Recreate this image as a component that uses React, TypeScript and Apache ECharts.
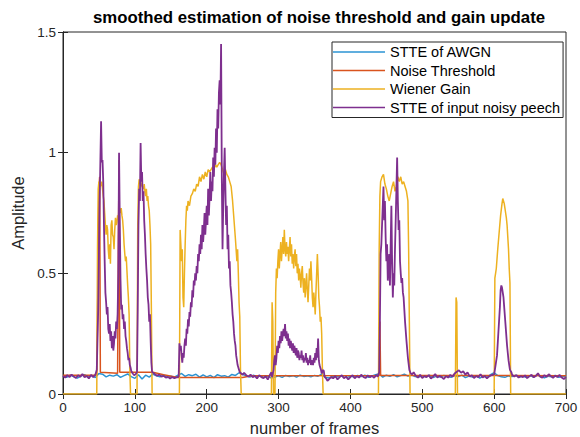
import React, { useEffect, useRef } from "react";
import * as echarts from "echarts";

// ---- Data ----
const titleText = "smoothed estimation of noise threshold and gain update";
const seriesNames = ["STTE of AWGN", "Noise Threshold", "Wiener Gain", "STTE of input noisy peech"];
const xTickStep = 100;
const yTickStep = 0.5;

// STTE of AWGN, one value every 5 frames (0..700)
const awgnStep = 5;
const awgnValues = [
  0.074, 0.069, 0.078, 0.072, 0.066, 0.075, 0.08, 0.07, 0.077, 0.068,
  0.085, 0.082, 0.071, 0.078, 0.074, 0.08, 0.069, 0.076, 0.083, 0.072,
  0.065, 0.08, 0.062, 0.078, 0.07, 0.083, 0.075, 0.071, 0.079, 0.068,
  0.074, 0.07, 0.078, 0.085, 0.073, 0.08, 0.076, 0.082, 0.07, 0.079,
  0.071, 0.077, 0.068, 0.08, 0.074, 0.076, 0.07, 0.081, 0.077, 0.088,
  0.082, 0.075, 0.07, 0.078, 0.072, 0.076, 0.068, 0.074, 0.066, 0.07,
  0.075, 0.069, 0.077, 0.072, 0.076, 0.07, 0.078, 0.073, 0.075, 0.071,
  0.077, 0.074, 0.082, 0.07, 0.066, 0.073, 0.069, 0.076, 0.071, 0.068,
  0.074, 0.07, 0.077, 0.072, 0.078, 0.069, 0.075, 0.08, 0.084, 0.07,
  0.078, 0.073, 0.08, 0.071, 0.076, 0.082, 0.074, 0.079, 0.072, 0.07,
  0.075, 0.071, 0.078, 0.068, 0.074, 0.07, 0.077, 0.073, 0.069, 0.076,
  0.072, 0.078, 0.068, 0.074, 0.07, 0.076, 0.066, 0.073, 0.069, 0.08,
  0.088, 0.076, 0.071, 0.069, 0.075, 0.072, 0.078, 0.07, 0.074, 0.068,
  0.076, 0.07, 0.079, 0.072, 0.067, 0.074, 0.071, 0.077, 0.069, 0.073,
  0.072,
];

// Noise threshold: [frame, value]
const thresholdPoints: [number, number][] = [
  [0, 0.078], [47, 0.078], [48, 0.3], [49, 0.6], [50, 0.85], [51, 0.9], [52, 0.09],
  [76, 0.086], [77, 0.6], [78, 0.97], [79, 0.09], [125, 0.09], [140, 0.08], [160, 0.068],
  [250, 0.068], [262, 0.076], [440, 0.077], [441, 0.3], [442, 0.077], [700, 0.076],
];

// Wiener gain: [frame, value]
const gainPoints: [number, number][] = [
  [0, 0], [47, 0], [48, 0.6], [49, 0.85], [50, 0.88], [52, 0.86], [54, 0.88], [56, 0.82],
  [57, 0.8], [58, 0.75], [59, 0.7], [60, 0.66], [61, 0.7], [62, 0.68], [63, 0.6], [64, 0.56],
  [65, 0.62], [66, 0.54], [67, 0.7], [68, 0.72], [69, 0.66], [70, 0.65], [71, 0.6], [72, 0.68],
  [73, 0.73], [74, 0.7], [75, 0.71], [76, 0.74], [77, 0.72], [78, 0.78], [79, 0.76], [80, 0.75],
  [81, 0.77], [82, 0.74], [83, 0.72], [84, 0.68], [85, 0.62], [86, 0.58], [87, 0.55], [88, 0.57],
  [89, 0.51], [90, 0.45], [91, 0.4], [92, 0.33], [93, 0.1], [94, 0],
  [103, 0], [104, 0.7], [105, 0.86], [106, 0.89], [107, 0.87], [108, 0.88], [110, 0.86],
  [112, 0.85], [113, 0.87], [114, 0.84], [115, 0.82], [116, 0.85], [117, 0.8], [118, 0.82],
  [119, 0.78], [120, 0.76], [121, 0.7], [122, 0.62], [123, 0.35], [124, 0],
  [162, 0], [163, 0.68], [164, 0.62], [165, 0.55], [166, 0.6], [167, 0.4], [168, 0.36],
  [169, 0.5], [170, 0.62], [171, 0.72], [172, 0.78], [173, 0.76], [174, 0.8], [176, 0.78],
  [178, 0.82], [180, 0.83], [182, 0.85], [184, 0.84], [186, 0.87], [188, 0.86], [190, 0.9],
  [192, 0.88], [194, 0.91], [196, 0.89], [198, 0.92], [200, 0.9], [202, 0.93], [204, 0.92],
  [206, 0.93], [208, 0.94], [210, 0.93], [212, 0.95], [214, 0.94], [216, 0.95], [218, 0.96],
  [220, 0.95], [222, 0.93], [224, 0.91], [226, 0.93], [228, 0.91], [230, 0.9], [232, 0.88],
  [234, 0.86], [236, 0.8], [238, 0.72], [240, 0.64], [242, 0.55], [243, 0.6], [244, 0.5],
  [245, 0.38], [246, 0.32], [247, 0.1], [248, 0],
  [290, 0], [291, 0.38], [292, 0.3], [293, 0], [295, 0], [296, 0.42], [297, 0.52], [298, 0.48],
  [299, 0.55], [300, 0.6], [301, 0.52], [302, 0.58], [303, 0.63], [304, 0.55], [305, 0.6],
  [306, 0.65], [307, 0.58], [308, 0.68], [309, 0.6], [310, 0.57], [311, 0.63], [312, 0.58],
  [313, 0.61], [314, 0.55], [315, 0.6], [316, 0.65], [317, 0.57], [318, 0.62], [319, 0.54],
  [320, 0.58], [321, 0.52], [322, 0.57], [323, 0.6], [324, 0.53], [325, 0.58], [326, 0.5],
  [327, 0.54], [328, 0.47], [329, 0.52], [330, 0.49], [331, 0.44], [332, 0.5], [333, 0.53],
  [334, 0.46], [335, 0.42], [336, 0.48], [337, 0.4], [338, 0.45], [339, 0.5], [340, 0.43],
  [341, 0.38], [342, 0.45], [343, 0.52], [344, 0.47], [345, 0.55], [346, 0.48], [347, 0.4],
  [348, 0.36], [349, 0.42], [350, 0.38], [351, 0.33], [352, 0.42], [353, 0.5], [354, 0.58],
  [355, 0.5], [356, 0.4], [357, 0.36], [358, 0.3], [359, 0.32], [360, 0.25], [361, 0.1], [362, 0],
  [439, 0], [440, 0.6], [441, 0.82], [442, 0.88], [444, 0.9], [446, 0.91], [448, 0.87],
  [450, 0.85], [452, 0.82], [454, 0.8], [456, 0.83], [458, 0.86], [460, 0.88], [462, 0.84],
  [464, 0.86], [466, 0.9], [468, 0.88], [470, 0.9], [472, 0.87], [474, 0.88], [476, 0.86],
  [478, 0.84], [480, 0.8], [481, 0.6], [482, 0.3], [483, 0],
  [546, 0], [547, 0.4], [548, 0.38], [549, 0],
  [600, 0], [601, 0.48], [602, 0.5], [603, 0.52], [605, 0.6], [607, 0.67], [609, 0.74],
  [611, 0.79], [612, 0.81], [613, 0.8], [614, 0.79], [615, 0.77], [616, 0.75], [617, 0.73],
  [618, 0.7], [619, 0.65], [620, 0.6], [621, 0.52], [622, 0.46], [623, 0], [700, 0],
];

// STTE of input noisy speech: [frame, value]
const noisyPoints: [number, number][] = [
  [0, 0.075], [3, 0.068], [6, 0.078], [9, 0.07], [12, 0.08], [15, 0.072], [18, 0.066], [21, 0.078],
  [24, 0.071], [27, 0.083], [30, 0.069], [33, 0.075], [36, 0.064], [39, 0.079], [42, 0.07],
  [45, 0.08], [47, 0.1], [49, 0.35], [51, 0.8], [53, 1.13], [54, 0.96], [55, 0.97], [56, 0.88],
  [57, 0.7], [58, 0.55], [59, 0.42], [60, 0.38], [61, 0.33], [62, 0.36], [63, 0.27], [64, 0.25],
  [65, 0.29], [66, 0.22], [67, 0.26], [68, 0.19], [69, 0.24], [70, 0.18], [71, 0.21], [72, 0.26],
  [73, 0.23], [74, 0.3], [75, 0.27], [76, 0.33], [77, 0.5], [78, 1.0], [79, 0.72], [80, 0.48],
  [81, 0.35], [82, 0.37], [83, 0.31], [84, 0.33], [85, 0.27], [86, 0.3], [87, 0.24], [88, 0.22],
  [89, 0.19], [90, 0.17], [91, 0.14], [92, 0.15], [93, 0.12], [94, 0.11], [95, 0.095], [97, 0.085],
  [99, 0.078], [101, 0.082], [103, 0.09], [104, 0.35], [105, 0.7], [106, 0.85], [107, 0.8],
  [108, 1.04], [109, 0.88], [110, 0.92], [111, 0.8], [112, 0.84], [113, 0.72], [114, 0.66],
  [115, 0.58], [116, 0.52], [117, 0.47], [118, 0.4], [119, 0.37], [120, 0.3], [121, 0.33],
  [122, 0.22], [123, 0.13], [124, 0.09], [126, 0.088], [128, 0.082], [131, 0.076], [134, 0.08],
  [137, 0.072], [140, 0.075], [143, 0.068], [146, 0.071], [149, 0.064], [152, 0.07], [155, 0.066],
  [158, 0.069], [161, 0.072], [162, 0.21], [163, 0.18], [164, 0.2], [165, 0.16], [166, 0.13],
  [167, 0.17], [168, 0.15], [169, 0.2], [170, 0.23], [171, 0.2], [172, 0.27], [173, 0.25],
  [174, 0.31], [175, 0.28], [176, 0.34], [177, 0.32], [178, 0.38], [179, 0.36], [180, 0.43],
  [181, 0.4], [182, 0.47], [183, 0.45], [184, 0.5], [185, 0.47], [186, 0.53], [187, 0.5],
  [188, 0.58], [189, 0.55], [190, 0.62], [191, 0.58], [192, 0.66], [193, 0.6], [194, 0.7],
  [195, 0.63], [196, 0.68], [197, 0.75], [198, 0.66], [199, 0.72], [200, 0.78], [201, 0.7],
  [202, 0.85], [203, 0.74], [204, 0.82], [205, 0.92], [206, 0.8], [207, 0.88], [208, 0.84],
  [209, 0.98], [210, 0.9], [211, 1.02], [212, 0.95], [213, 1.1], [214, 1.0], [215, 1.18],
  [216, 1.1], [217, 1.25], [218, 1.3], [219, 1.2], [220, 1.45], [221, 0.9], [222, 0.6],
  [223, 0.78], [224, 0.92], [225, 1.02], [226, 0.85], [227, 0.7], [228, 0.78], [229, 0.6],
  [230, 0.66], [231, 0.52], [232, 0.55], [233, 0.45], [234, 0.42], [235, 0.38], [236, 0.33],
  [237, 0.3], [238, 0.25], [239, 0.22], [240, 0.2], [241, 0.16], [242, 0.14], [243, 0.12],
  [244, 0.11], [246, 0.09], [248, 0.085], [250, 0.08], [252, 0.088], [255, 0.078], [258, 0.072],
  [261, 0.08], [264, 0.07], [267, 0.075], [270, 0.064], [273, 0.078], [276, 0.07], [279, 0.066],
  [282, 0.074], [285, 0.06], [288, 0.08], [290, 0.09], [291, 0.07], [293, 0.1], [294, 0.14],
  [295, 0.16], [296, 0.12], [297, 0.15], [298, 0.2], [299, 0.17], [300, 0.22], [301, 0.19],
  [302, 0.24], [303, 0.21], [304, 0.26], [305, 0.22], [306, 0.25], [307, 0.27], [308, 0.24],
  [309, 0.29], [310, 0.23], [311, 0.26], [312, 0.22], [313, 0.25], [314, 0.2], [315, 0.23],
  [316, 0.19], [317, 0.22], [318, 0.2], [319, 0.18], [320, 0.21], [321, 0.17], [322, 0.2],
  [323, 0.18], [324, 0.16], [325, 0.19], [326, 0.15], [327, 0.18], [328, 0.17], [329, 0.14],
  [330, 0.16], [331, 0.15], [332, 0.18], [333, 0.14], [334, 0.16], [335, 0.13], [336, 0.15],
  [337, 0.14], [338, 0.17], [339, 0.13], [340, 0.15], [341, 0.12], [342, 0.14], [343, 0.13],
  [344, 0.16], [345, 0.12], [346, 0.14], [347, 0.13], [348, 0.12], [349, 0.15], [350, 0.13],
  [351, 0.17], [352, 0.14], [353, 0.19], [354, 0.15], [355, 0.23], [356, 0.14], [357, 0.12],
  [358, 0.11], [359, 0.1], [360, 0.085], [362, 0.1], [363, 0.095], [364, 0.072], [366, 0.065],
  [368, 0.055], [370, 0.06], [373, 0.07], [376, 0.065], [379, 0.075], [382, 0.06], [385, 0.07],
  [388, 0.078], [391, 0.065], [394, 0.072], [397, 0.06], [400, 0.07], [403, 0.078], [406, 0.065],
  [409, 0.074], [412, 0.068], [415, 0.08], [418, 0.071], [421, 0.066], [424, 0.077], [427, 0.07],
  [430, 0.075], [433, 0.067], [436, 0.079], [438, 0.072], [440, 0.09], [441, 0.3], [442, 0.58],
  [443, 0.62], [444, 0.7], [445, 0.78], [446, 0.86], [447, 0.72], [448, 0.8], [449, 0.65],
  [450, 0.55], [451, 0.62], [452, 0.47], [453, 0.52], [454, 0.58], [455, 0.45], [456, 0.62],
  [457, 0.78], [458, 0.55], [459, 0.4], [460, 0.5], [461, 0.45], [462, 0.6], [463, 0.72],
  [464, 0.85], [465, 0.98], [466, 0.8], [467, 0.68], [468, 0.72], [469, 0.55], [470, 0.5],
  [471, 0.46], [472, 0.48], [473, 0.42], [474, 0.4], [476, 0.3], [478, 0.22], [480, 0.15],
  [482, 0.1], [484, 0.085], [486, 0.082], [488, 0.09], [491, 0.075], [494, 0.068], [497, 0.08],
  [500, 0.066], [503, 0.074], [506, 0.07], [509, 0.078], [512, 0.064], [515, 0.072], [518, 0.083],
  [521, 0.068], [524, 0.075], [527, 0.07], [530, 0.062], [533, 0.074], [536, 0.068], [539, 0.079],
  [542, 0.072], [545, 0.085], [548, 0.092], [551, 0.098], [554, 0.088], [557, 0.094], [560, 0.08],
  [563, 0.09], [566, 0.072], [569, 0.078], [572, 0.066], [575, 0.074], [578, 0.07], [581, 0.082],
  [584, 0.068], [587, 0.075], [590, 0.065], [593, 0.073], [596, 0.078], [599, 0.08], [600, 0.08],
  [602, 0.12], [604, 0.16], [606, 0.26], [608, 0.36], [609, 0.43], [610, 0.45], [611, 0.44],
  [612, 0.42], [613, 0.4], [614, 0.36], [615, 0.32], [616, 0.28], [617, 0.24], [618, 0.2],
  [619, 0.17], [620, 0.14], [621, 0.12], [622, 0.1], [624, 0.09], [625, 0.08], [628, 0.072],
  [631, 0.078], [634, 0.068], [637, 0.074], [640, 0.07], [643, 0.077], [646, 0.066], [649, 0.073],
  [652, 0.08], [655, 0.069], [658, 0.075], [661, 0.086], [664, 0.072], [667, 0.068], [670, 0.078],
  [673, 0.071], [676, 0.082], [679, 0.074], [682, 0.067], [685, 0.076], [688, 0.07], [691, 0.079],
  [694, 0.068], [697, 0.062], [700, 0.07],
];

const colors = ["#2b93d3", "#d9541e", "#edb120", "#7e2f8e"];
const FONT = 'Arial, "Liberation Sans", Helvetica, sans-serif';
const AXIS = "#262626";

export default function App() {
  const ref = useRef<HTMLDivElement>(null);
  useEffect(() => {
    if (!ref.current) return;
    const chart = echarts.init(ref.current, null, { renderer: "svg" });
    const awgnData = awgnValues.map((v, i) => [i * awgnStep, v]);
    const tickCommon = {
      show: true,
      inside: true,
      length: 5,
      lineStyle: { color: AXIS, width: 1 },
    };
    chart.setOption({
      animation: false,
      backgroundColor: "#ffffff",
      color: colors,
      textStyle: { fontFamily: FONT },
      graphic: [
        {
          type: "text",
          x: 319,
          y: 17,
          style: {
            text: titleText,
            fontFamily: FONT,
            fontSize: 16.8,
            fontWeight: "bold",
            fill: "#000",
            align: "center",
            verticalAlign: "middle",
          },
        },
      ],
      grid: {
        left: 63,
        right: 14,
        top: 32,
        bottom: 43,
        containLabel: false,
        outerBoundsMode: "none",
        show: true,
        borderColor: AXIS,
        borderWidth: 1,
        backgroundColor: "#fff",
      },
      legend: {
        orient: "vertical",
        left: 332,
        top: 42,
        data: seriesNames,
        icon: "rect",
        itemWidth: 52,
        itemHeight: 1.5,
        itemGap: 2.5,
        padding: [2, 3, 2, 1],
        borderColor: AXIS,
        borderWidth: 1,
        backgroundColor: "#fff",
        textStyle: { fontFamily: FONT, fontSize: 14.5, lineHeight: 16, color: "#000" },
      },
      xAxis: [
        {
          type: "value",
          min: 0,
          max: 700,
          interval: xTickStep,
          name: "number of frames",
          nameLocation: "middle",
          nameGap: 25,
          nameTextStyle: { fontFamily: FONT, fontSize: 16.5, color: AXIS },
          axisLine: { show: true, lineStyle: { color: AXIS } },
          axisTick: tickCommon,
          axisLabel: { fontFamily: FONT, fontSize: 13.5, color: AXIS, margin: 6 },
          splitLine: { show: false },
        },
        {
          type: "value",
          position: "top",
          min: 0,
          max: 700,
          interval: xTickStep,
          axisLine: { show: true, lineStyle: { color: AXIS } },
          axisTick: tickCommon,
          axisLabel: { show: false },
          splitLine: { show: false },
        },
      ],
      yAxis: [
        {
          type: "value",
          min: 0,
          max: 1.5,
          interval: yTickStep,
          name: "Amplitude",
          nameLocation: "middle",
          nameGap: 31,
          nameTextStyle: { fontFamily: FONT, fontSize: 16.5, color: AXIS },
          axisLine: { show: true, lineStyle: { color: AXIS } },
          axisTick: tickCommon,
          axisLabel: { fontFamily: FONT, fontSize: 13.5, color: AXIS, margin: 7 },
          splitLine: { show: false },
        },
        {
          type: "value",
          position: "right",
          min: 0,
          max: 1.5,
          interval: yTickStep,
          axisLine: { show: true, lineStyle: { color: AXIS } },
          axisTick: tickCommon,
          axisLabel: { show: false },
          splitLine: { show: false },
        },
      ],
      series: [
        { name: seriesNames[0], type: "line", data: awgnData, showSymbol: false, symbol: "none", lineStyle: { width: 1.5, color: colors[0] }, itemStyle: { color: colors[0] } },
        { name: seriesNames[1], type: "line", data: thresholdPoints, showSymbol: false, symbol: "none", lineStyle: { width: 1.5, color: colors[1] }, itemStyle: { color: colors[1] } },
        { name: seriesNames[2], type: "line", data: gainPoints, showSymbol: false, symbol: "none", lineStyle: { width: 1.5, color: colors[2] }, itemStyle: { color: colors[2] } },
        { name: seriesNames[3], type: "line", data: noisyPoints, showSymbol: false, symbol: "none", lineStyle: { width: 1.8, color: colors[3] }, itemStyle: { color: colors[3] } },
      ],
    });
    return () => chart.dispose();
  }, []);
  return (
    <div
      ref={ref}
      style={{ position: "fixed", left: 0, top: 0, width: 580, height: 437, background: "#fff" }}
    />
  );
}
